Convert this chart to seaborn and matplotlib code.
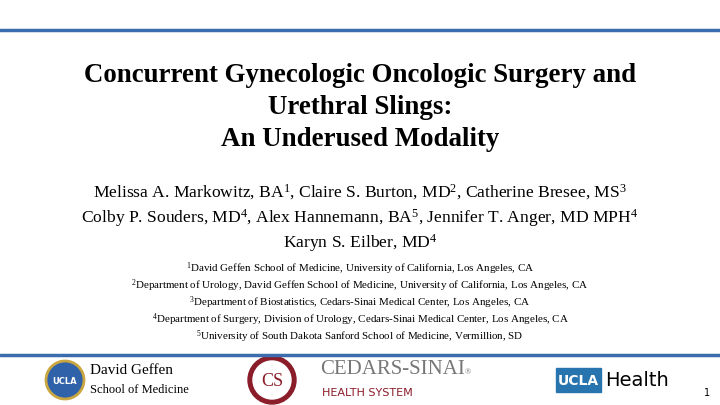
import seaborn as sns
import matplotlib.pyplot as plt
from matplotlib.patches import Circle, Rectangle

sns.set_theme(style='white')
plt.rcParams['font.family'] = ['Liberation Serif', 'DejaVu Serif']
plt.rcParams['text.color'] = 'black'
plt.rcParams['mathtext.fontset'] = 'custom'
plt.rcParams['mathtext.rm'] = 'Liberation Serif'
plt.rcParams['mathtext.it'] = 'Liberation Serif'

title_lines = ['Concurrent Gynecologic Oncologic Surgery and', 'Urethral Slings:', 'An Underused Modality']
author_lines = [
    r'Melissa A. Markowitz, BA$^{1}$, Claire S. Burton, MD$^{2}$, Catherine Bresee, MS$^{3}$',
    r'Colby P. Souders, MD$^{4}$, Alex Hannemann, BA$^{5}$, Jennifer T. Anger, MD MPH$^{4}$',
    r'Karyn S. Eilber, MD$^{4}$',
]
affil_lines = [
    r'$^{1}$David Geffen School of Medicine, University of California, Los Angeles, CA',
    r'$^{2}$Department of Urology, David Geffen School of Medicine, University of California, Los Angeles, CA',
    r'$^{3}$Department of Biostatistics, Cedars-Sinai Medical Center, Los Angeles, CA',
    r'$^{4}$Department of Surgery, Division of Urology, Cedars-Sinai Medical Center, Los Angeles, CA',
    r'$^{5}$University of South Dakota Sanford School of Medicine, Vermillion, SD',
]
title_y = [75, 108, 140]
author_y = [192, 218, 243]
affil_y = [269, 286, 303, 320, 337]

W, H = 720, 405
fig = plt.figure(figsize=(7.2, 4.05), dpi=100)
ax = fig.add_axes([0, 0, 1, 1])
ax.set_xlim(0, W)
ax.set_ylim(H, 0)
ax.axis('off')

blue = '#3b6cae'
ax.plot([0, W], [30, 30], color=blue, lw=2.5)
ax.plot([0, W], [355, 355], color=blue, lw=2.5)

for t, y in zip(title_lines, title_y):
    ax.text(360, y, t, ha='center', va='center', fontsize=19.4, fontweight='bold')
for t, y in zip(author_lines, author_y):
    ax.text(360, y, t, ha='center', va='center', fontsize=12.6)
for t, y in zip(affil_lines, affil_y):
    ax.text(360, y, t, ha='center', va='center', fontsize=7.9)

# logos
ax.add_patch(Circle((65, 380), 19, color='#2f62a8', ec='#c9a640', lw=2))
ax.text(65, 381, 'UCLA', color='white', ha='center', va='center', fontsize=6, fontweight='bold',
        family='DejaVu Sans')
ax.text(90, 371, 'David Geffen', ha='left', va='center', fontsize=11)
ax.text(90, 390, 'School of Medicine', ha='left', va='center', fontsize=9)

ax.add_patch(Circle((272, 380), 24, color='#8b1c2a'))
ax.add_patch(Circle((272, 380), 19, color='white'))
ax.text(272, 381, 'CS', color='#8b1c2a', ha='center', va='center', fontsize=13)
ax.text(320, 370, 'CEDARS-SINAI', color='#777777', ha='left', va='center', fontsize=15)
ax.text(465, 372, '®', color='#777777', ha='left', va='center', fontsize=6)
ax.text(322, 393, 'HEALTH SYSTEM', color='#8b1c2a', ha='left', va='center', fontsize=8,
        family='DejaVu Sans')

ax.add_patch(Rectangle((556, 368), 45, 24, color='#2774ae'))
ax.text(578, 381, 'UCLA', color='white', ha='center', va='center', fontsize=10, fontweight='bold',
        family='DejaVu Sans')
ax.text(605, 381, 'Health', ha='left', va='center', fontsize=14, family='DejaVu Sans')

ax.text(707, 393, '1', ha='center', va='center', fontsize=7, family='DejaVu Sans')

plt.savefig('out.png', dpi=100)
